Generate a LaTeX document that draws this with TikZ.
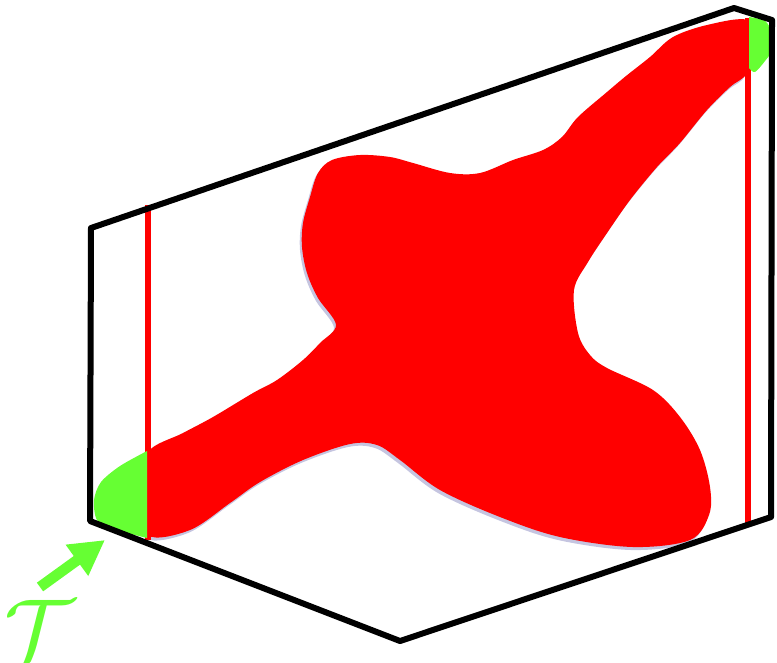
\documentclass[tikz,border=0pt]{standalone}
\usepackage{amsmath}
\usetikzlibrary{arrows.meta}
\definecolor{tgreen}{RGB}{102,255,51}
\tikzset{
  frame/.style={line width=4.5pt, line join=round},
  redline/.style={red, line width=4pt},
  blob/.style={fill=red, draw=none},
  blobshade/.style={fill=gray!70!blue, opacity=0.35, draw=none},
  patch/.style={fill=tgreen, draw=none},
  pointer/.style={tgreen, line width=8pt, -{Triangle[length=26pt,width=27pt]}},
}
\begin{document}
\begin{tikzpicture}[x=0.75pt,y=-0.75pt]

		\useasboundingbox (0,0) rectangle (777,662);

		% define point

		\coordinate (A)  at (91,228);

		\coordinate (B)  at (734,8);

		\coordinate (C)  at (772,20);

		\coordinate (D)  at (771,517);

		\coordinate (E)  at (400,641);

		\coordinate (F)  at (90,521);

		% red lines

		\coordinate (L1) at (148,205);

		\coordinate (L2) at (148,540);

		\coordinate (R1) at (748,18);

		\coordinate (R2) at (748,527);

		% blob

		\fill[blobshade, shift={(-2,3)}] plot[smooth cycle, tension=0.55] coordinates {
			(148,452) (183,433) (213,417) (253,393) (277,380) (303,360) (320,343) (336,325)
			(318,298) (307,273) (302,247) (303,223) (310,197) (318,173) (332,160) (360,155)
			(390,157) (413,163) (450,173) (480,173) (513,160) (543,150) (562,137) (578,117)
			(607,92) (626,76) (650,57) (673,37) (707,25) (747,20) (749,45) (747,73) (730,87)
			(707,110) (680,143) (657,167) (630,200) (607,233) (588,262) (574,290) (578,333)
			(590,355) (607,368) (653,390) (680,417) (700,450) (710,487) (709,515) (690,540)
			(633,547) (560,537) (500,517) (440,490) (400,460) (377,445) (350,444) (303,460)
			(260,482) (230,503) (190,530) (148,535) (146,490)};

		\fill[blob] plot[smooth cycle, tension=0.55] coordinates {
			(148,452) (183,433) (213,417) (253,393) (277,380) (303,360) (320,343) (336,325)
			(318,298) (307,273) (302,247) (303,223) (310,197) (318,173) (332,160) (360,155)
			(390,157) (413,163) (450,173) (480,173) (513,160) (543,150) (562,137) (578,117)
			(607,92) (626,76) (650,57) (673,37) (707,25) (747,20) (749,45) (747,73) (730,87)
			(707,110) (680,143) (657,167) (630,200) (607,233) (588,262) (574,290) (578,333)
			(590,355) (607,368) (653,390) (680,417) (700,450) (710,487) (709,515) (690,540)
			(633,547) (560,537) (500,517) (440,490) (400,460) (377,445) (350,444) (303,460)
			(260,482) (230,503) (190,530) (148,535) (146,490)};

		% vertical lines

		\draw[redline] (L1) -- (L2);

		\draw[redline] (R1) -- (R2);

		% end patches

		\fill[patch] plot[smooth] coordinates {(147,451) (120,466) (101,482) (94,500) (97,520) (113,529) (147,538)} -- cycle;

		\fill[patch] plot[smooth] coordinates {(749,17) (765,21) (772,33) (772,50) (765,61) (755,72) (749,68)} -- cycle;

		% frame

		\draw[frame] (A) -- (B) -- (C) -- (D) -- (E) -- (F) -- cycle;

		% label

		\coordinate (tail) at (40,587);

		\coordinate (tip)  at (105,540);

		\draw[pointer] (tail) -- (tip);

		\node[text=tgreen, inner sep=0pt, font=\Huge, scale=2.65] (tau) at (40,630) {$\mathcal{T}$};

	\end{tikzpicture}
\end{document}
